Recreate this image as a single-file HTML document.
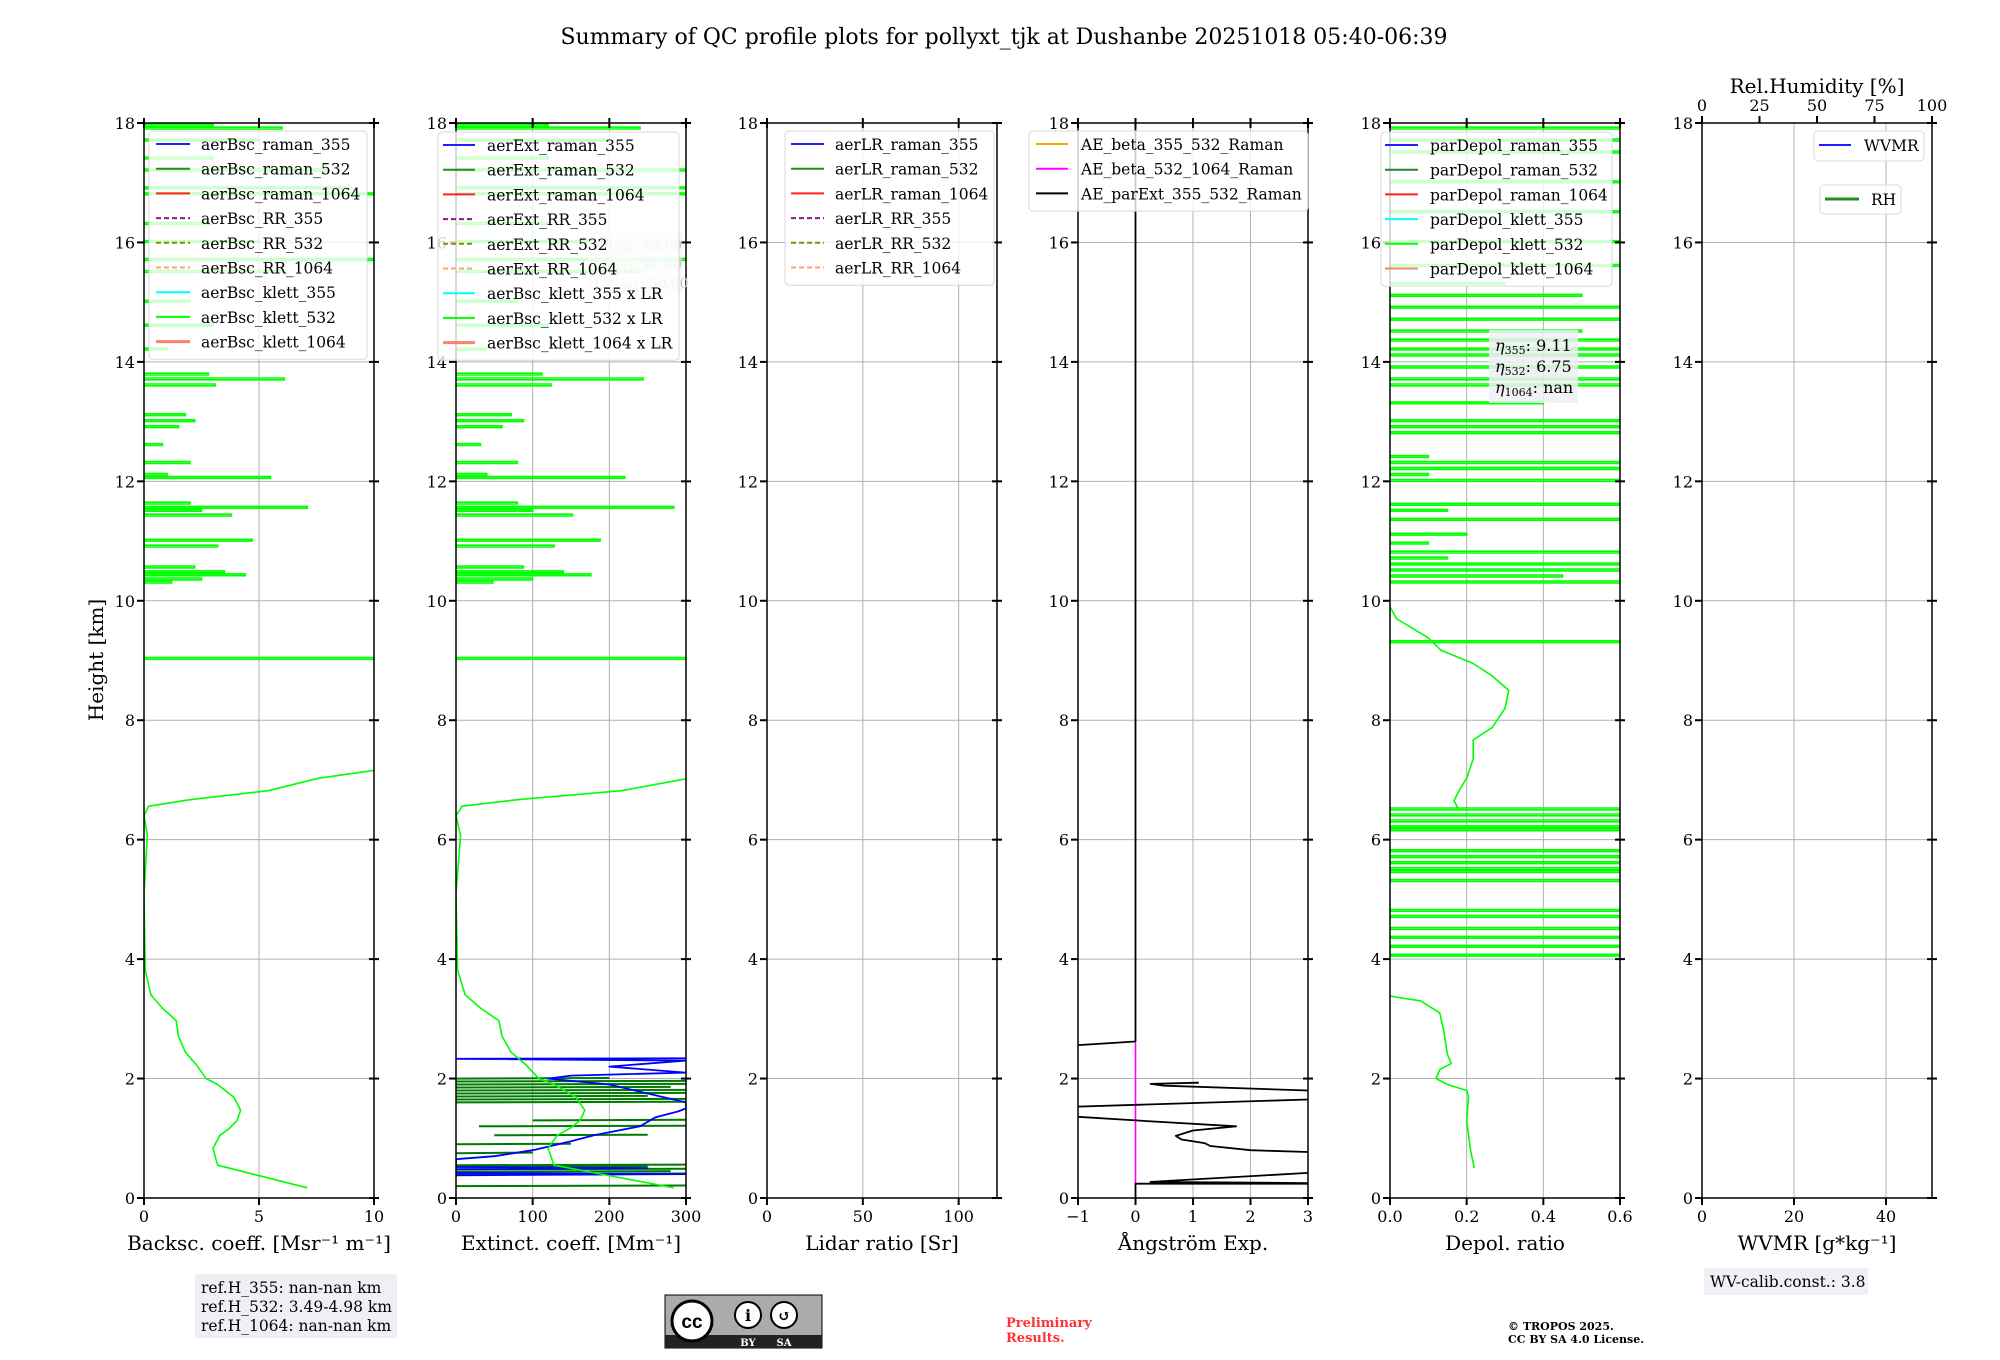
<!DOCTYPE html>
<html><head><meta charset="utf-8"><style>
html,body{margin:0;padding:0;background:#fff;}
svg{display:block;font-family:"DejaVu Serif","Liberation Serif",serif;}
</style></head><body>
<svg id="fig" width="2000" height="1360" viewBox="0 0 2000 1360" xmlns="http://www.w3.org/2000/svg">
<text x="1004" y="44" font-size="22" text-anchor="middle">Summary of QC profile plots for pollyxt_tjk at Dushanbe 20251018 05:40-06:39</text>
<text x="0" y="0" font-size="20" text-anchor="middle" transform="translate(103,660) rotate(-90)">Height [km]</text>
<g id="panels"></g>
<g>
<rect x="195" y="1274" width="202" height="64" fill="#eef0f5"/>
<text x="201" y="1293" font-size="15.5">ref.H_355: nan-nan km</text>
<text x="201" y="1312" font-size="15.5">ref.H_532: 3.49-4.98 km</text>
<text x="201" y="1331" font-size="15.5">ref.H_1064: nan-nan km</text>
</g>
<g>
<rect x="665" y="1295" width="157" height="53" fill="#a9aca9" stroke="#000" stroke-width="1"/>
<rect x="665" y="1335" width="157" height="13" fill="#222"/>
<circle cx="692" cy="1321" r="20" fill="#fff" stroke="#000" stroke-width="3"/>
<text x="692" y="1328" font-size="19" font-weight="bold" text-anchor="middle" font-family="Liberation Sans, sans-serif">cc</text>
<circle cx="748" cy="1315" r="13" fill="#fff" stroke="#000" stroke-width="2"/>
<text x="748" y="1321" font-size="16" font-weight="bold" text-anchor="middle">i</text>
<circle cx="784" cy="1315" r="13" fill="#fff" stroke="#000" stroke-width="2"/>
<text x="784" y="1321" font-size="15" font-weight="bold" text-anchor="middle">↺</text>
<text x="748" y="1346" font-size="10" fill="#fff" text-anchor="middle" font-weight="bold">BY</text>
<text x="784" y="1346" font-size="10" fill="#fff" text-anchor="middle" font-weight="bold">SA</text>
</g>
<text x="1006" y="1327" font-size="13" font-weight="bold" fill="#ff3333">Preliminary</text>
<text x="1006" y="1342" font-size="13" font-weight="bold" fill="#ff3333">Results.</text>
<text x="1508" y="1330" font-size="11" font-weight="bold">© TROPOS 2025.</text>
<text x="1508" y="1343" font-size="11" font-weight="bold">CC BY SA 4.0 License.</text>
<g>
<rect x="1704" y="1268" width="164" height="27" fill="#eef0f5"/>
<text x="1710" y="1287" font-size="15.5">WV-calib.const.: 3.8</text>
</g>
</svg>
<script>
// ---------- data ----------
const bscH = [0.17,0.55,0.83,1.05,1.16,1.3,1.47,1.69,1.9,2.0,2.22,2.44,2.71,2.97,3.18,3.4,3.82,5.1,6.07,6.4,6.56,6.67,6.82,7.03,7.16];
const bscV = [7.1,3.2,3.0,3.3,3.7,4.05,4.2,3.9,3.2,2.7,2.3,1.8,1.5,1.4,0.8,0.3,0.05,0.0,0.15,0.0,0.2,2.0,5.4,7.6,10.0];
const bscSpikeH = [9.02,10.3,10.35,10.42,10.47,10.55,10.9,11.0,11.42,11.5,11.55,11.62,12.05,12.1,12.3,12.6,12.9,13.0,13.1,13.6,13.7,13.78,14.2,14.6,15.0,15.5,15.7,16.0,16.3,16.8,16.9,17.2,17.4,17.7,17.9,17.95];
const bscSpikeV = [10,1.2,2.5,4.4,3.5,2.2,3.2,4.7,3.8,2.5,7.1,2.0,5.5,1.0,2.0,0.8,1.5,2.2,1.8,3.1,6.1,2.8,1.0,3.0,2.0,6.0,10,5.0,3.0,10,9.0,8.0,3.0,5.0,6.0,3.0];
const lrValues = [45.0,40.0,50.0];
const e355H = [0.38,0.4,0.42,0.48,0.5,0.52,0.65,0.7,0.8,0.95,1.05,1.1,1.2,1.35,1.45,1.5,1.6,1.75,1.9,2.0,2.05,2.1,2.2,2.3,2.33,2.34];
const e355V = [0,300,0,0,250,0,0,50,100,150,180,200,240,260,290,300,300,250,200,120,150,300,200,300,0,300];
const e532H = [0.2,0.4,0.44,0.48,0.52,0.55,0.75,0.9,1.05,1.2,1.3,1.6,1.65,1.7,1.75,1.8,1.85,1.9,1.95,2.0];
const e532A = [0,0,0,0,0,0,0,0,50,30,100,0,0,0,0,0,0,0,0,0];
const e532B = [300,300,280,300,250,300,100,150,250,300,300,300,300,250,300,300,280,300,300,200];
const aeH = [18,2.62,2.56,null,1.93,1.91,1.88,1.8,null,1.65,1.53,null,1.36,1.3,1.2,1.13,1.04,0.98,0.92,0.87,0.8,0.77,null,0.42,0.27,0.25,0.24,0.24,0];
const aeV = [0,0,-1,null,1.1,0.26,0.5,3,null,3,-1,null,-1,0,1.75,1.0,0.7,0.8,1.2,1.3,2.0,3,null,3,0.26,3,3,0,0];
const aeBetaH = [0.24,2.6];
const aeBetaV = [0,0];
const depH = [0.5,0.8,1.3,1.7,1.8,1.9,2.0,2.15,2.25,2.4,2.8,3.1,3.3,3.38];
const depV = [0.22,0.21,0.2,0.205,0.2,0.15,0.12,0.13,0.16,0.15,0.14,0.13,0.08,0];
const dep2H = [6.5,6.65,6.82,7.03,7.35,7.67,7.88,8.2,8.5,8.74,8.95,9.17,9.38,9.7,9.9];
const dep2V = [0.18,0.167,0.18,0.2,0.217,0.217,0.267,0.3,0.31,0.267,0.217,0.133,0.1,0.017,0];
const depSpikeH = [4.05,4.2,4.35,4.5,4.7,4.8,5.3,5.45,5.5,5.6,5.7,5.8,6.15,6.2,6.3,6.4,6.5,9.3,10.3,10.4,10.5,10.6,10.7,10.8,10.95,11.1,11.35,11.5,11.6,12.0,12.1,12.2,12.3,12.4,12.8,12.9,13.0,13.3,13.6,13.7,13.9,14.1,14.2,14.35,14.5,14.7,14.9,15.1,15.3,15.6,16.0,16.5,17.0,17.5,17.7,17.9];
const depSpikeV = [0.6,0.6,0.6,0.6,0.6,0.6,0.6,0.6,0.6,0.6,0.6,0.6,0.6,0.6,0.6,0.6,0.6,0.6,0.6,0.45,0.6,0.6,0.15,0.6,0.1,0.2,0.6,0.15,0.6,0.6,0.1,0.6,0.6,0.1,0.6,0.6,0.6,0.4,0.6,0.6,0.6,0.6,0.6,0.6,0.5,0.6,0.6,0.5,0.3,0.6,0.6,0.6,0.6,0.6,0.6,0.6];
const etaLabels = ["9.11","6.75","nan"];
const yTicks = [0,2,4,6,8,10,12,14,16,18];

// ---------- layout ----------
const NS="http://www.w3.org/2000/svg";
const TOP=123, BOT=1198, W=230;
const lefts=[144,456,767,1078,1390,1702];
const cfg=[
 {min:0,max:10,ticks:[0,5,10],lab:["0","5","10"],title:"Backsc. coeff. [Msr⁻¹ m⁻¹]",name:"backscatter"},
 {min:0,max:300,ticks:[0,100,200,300],lab:["0","100","200","300"],title:"Extinct. coeff. [Mm⁻¹]",name:"extinction"},
 {min:0,max:120,ticks:[0,50,100],lab:["0","50","100"],title:"Lidar ratio [Sr]",name:"lidar-ratio"},
 {min:-1,max:3,ticks:[-1,0,1,2,3],lab:["−1","0","1","2","3"],title:"Ångström Exp.",name:"angstrom"},
 {min:0,max:0.6,ticks:[0,0.2,0.4,0.6],lab:["0.0","0.2","0.4","0.6"],title:"Depol. ratio",name:"depol"},
 {min:0,max:50,ticks:[0,20,40],lab:["0","20","40"],title:"WVMR [g*kg⁻¹]",name:"wvmr"}
];
const yS=h=>BOT-(h/18)*(BOT-TOP);
const root=document.getElementById('panels');
function mk(tag,attrs,parent){const e=document.createElementNS(NS,tag);for(const k in attrs)e.setAttribute(k,attrs[k]);(parent||root).appendChild(e);return e;}
function xs(i){const c=cfg[i];return v=>lefts[i]+(v-c.min)/(c.max-c.min)*W;}

const defs=mk('defs',{});
const plotGroups=[];
cfg.forEach((c,i)=>{
 const L=lefts[i], X=xs(i);
 const g=mk('g',{});
 
 
 const cp=mk('clipPath',{id:'cp'+i},defs);
 mk('rect',{x:L,y:TOP,width:W,height:BOT-TOP},cp);
 c.ticks.forEach(t=>{mk('line',{x1:X(t),x2:X(t),y1:TOP,y2:BOT,stroke:'#b0b0b0','stroke-width':1},g);});
 yTicks.forEach(t=>{mk('line',{x1:L,x2:L+W,y1:yS(t),y2:yS(t),stroke:'#b0b0b0','stroke-width':1},g);});
 const pg=mk('g',{'clip-path':'url(#cp'+i+')'},g);
 plotGroups.push(pg);
 const fr=mk('rect',{x:L,y:TOP,width:W,height:BOT-TOP,fill:'none',stroke:'#000','stroke-width':1.5},g);
 
 
 yTicks.forEach(t=>{
  mk('line',{x1:L-7,x2:L,y1:yS(t),y2:yS(t),stroke:'#000','stroke-width':2},g);
  mk('line',{x1:L+W-5,x2:L+W+5,y1:yS(t),y2:yS(t),stroke:'#000','stroke-width':2},g);
  const tx=mk('text',{x:L-9,y:yS(t)+6,'font-size':16,'text-anchor':'end'},g);
  tx.textContent=String(t);
  
  
 });
 c.ticks.forEach((t,k)=>{
  mk('line',{x1:X(t),x2:X(t),y1:BOT,y2:BOT+7,stroke:'#000','stroke-width':2},g);
  if(i!==5) mk('line',{x1:X(t),x2:X(t),y1:TOP-5,y2:TOP+5,stroke:'#000','stroke-width':2},g);
  const tx=mk('text',{x:X(t),y:BOT+24,'font-size':16,'text-anchor':'middle'},g);
  tx.textContent=c.lab[k];
  
  
 });
 const at=mk('text',{x:L+W/2,y:BOT+52,'font-size':20,'text-anchor':'middle'},g);
 at.textContent=c.title;
 
 
});

function poly(i,H,V,color,w,name){
 const X=xs(i);let d='',pen=false;
 for(let k=0;k<H.length;k++){
  if(H[k]===null||V[k]===null){pen=false;continue;}
  d+=(pen?'L':'M')+X(V[k]).toFixed(1)+','+yS(H[k]).toFixed(1)+' ';pen=true;
 }
 const p=mk('path',{d:d,fill:'none',stroke:color,'stroke-width':w,'stroke-linejoin':'round'},plotGroups[i]);
 
 
 return p;
}
function spikes(i,H,V,scale,color,name){
 const X=xs(i);let d='';
 for(let k=0;k<H.length;k++){
  const v=V[k]*scale;
  d+='M'+X(0).toFixed(1)+','+yS(H[k]).toFixed(1)+'L'+X(v).toFixed(1)+','+yS(H[k]).toFixed(1)+'L'+X(v).toFixed(1)+','+yS(H[k]+0.03).toFixed(1)+'L'+X(0).toFixed(1)+','+yS(H[k]+0.03).toFixed(1)+' ';
 }
 const p=mk('path',{d:d,fill:'none',stroke:color,'stroke-width':1.6},plotGroups[i]);
 
 
}
function segs(i,H,A,B,color,name){
 const X=xs(i);let d='';
 for(let k=0;k<H.length;k++){d+='M'+X(A[k]).toFixed(1)+','+yS(H[k]).toFixed(1)+'L'+X(B[k]).toFixed(1)+','+yS(H[k]+0.01).toFixed(1)+' ';}
 const p=mk('path',{d:d,fill:'none',stroke:color,'stroke-width':2},plotGroups[i]);
 
 
}

poly(0,bscH,bscV,'#00ff00',1.6,'aerBsc-klett-532-line');
spikes(0,bscSpikeH,bscSpikeV,1,'#00ff00','aerBsc-klett-532-spikes');
const lr532=lrValues[1];
segs(1,e532H,e532A,e532B,'#007a00','aerExt-raman-532-line');
poly(1,e355H,e355V,'#0000ff',1.8,'aerExt-raman-355-line');
poly(1,bscH,bscV.map(v=>v*lr532),'#00ff00',1.6,'aerBsc-klett-532-x-LR-line');
spikes(1,bscSpikeH,bscSpikeV,lr532,'#00ff00','aerBsc-klett-532-x-LR-spikes');
poly(3,aeBetaH,aeBetaV,'#ff00ff',1.6,'AE-beta-532-1064-line');
poly(3,aeH,aeV,'#000',1.8,'AE-parExt-355-532-line');
poly(4,depH,depV,'#00ff00',1.6,'parDepol-klett-532-lower');
poly(4,dep2H,dep2V,'#00ff00',1.6,'parDepol-klett-532-mid');
spikes(4,depSpikeH,depSpikeV,1,'#00ff00','parDepol-klett-532-spikes');

const lrBox=mk('g',{});


mk('rect',{x:588,y:232,width:94,height:61,fill:'#eef0f5','fill-opacity':0.6},lrBox);
["355","532","1064"].forEach((w,k)=>{
 const t=mk('text',{x:594,y:250+k*19,'font-size':14,fill:'#c8c8c8'},lrBox);
 t.innerHTML='LR<tspan font-size="10" dy="3">'+w+'</tspan><tspan dy="-3">: '+lrValues[k].toFixed(2)+'</tspan>';
});

function legend(name,x,y,w,rowH,items,textX,hx1,hx2,off){
 off=off||13;
 const g=mk('g',{});
 
 
 mk('rect',{x:x,y:y,width:w,height:rowH*items.length+6,rx:4,fill:'#fff','fill-opacity':0.8,stroke:'#d8d8d8','stroke-width':1},g);
 items.forEach((it,k)=>{
  const cy=y+off+k*rowH;
  mk('line',{x1:hx1,x2:hx2,y1:cy,y2:cy,stroke:it[1],'stroke-width':it[3]||2,'stroke-dasharray':it[2]?'5,3':'none'},g);
  const t=mk('text',{x:textX,y:cy+6,'font-size':15.5},g);
  t.textContent=it[0];
  
  
 });
}
const c9=(p,suf)=>[[p+'_raman_355','#2020ff'],[p+'_raman_532','#228b22'],[p+'_raman_1064','#ff2020'],[p+'_RR_355','#8b1a8b',1],[p+'_RR_532','#8b8b00',1],[p+'_RR_1064','#ffa07a',1],[(suf?'aerBsc':p)+'_klett_355'+(suf||''),'#00ffff'],[(suf?'aerBsc':p)+'_klett_532'+(suf||''),'#00ff00'],[(suf?'aerBsc':p)+'_klett_1064'+(suf||''),'#fa8072',0,3]];
legend('backscatter-legend',149,131,218,24.7,c9('aerBsc'),201,156,190);
legend('extinction-legend',438,132,241,24.7,c9('aerExt',' x LR'),487,443,475);
legend('lidar-ratio-legend',785,131,209,24.7,c9('aerLR').slice(0,6),835,791,824);
legend('angstrom-legend',1029,131,279,24.7,[['AE_beta_355_532_Raman','#ffa500'],['AE_beta_532_1064_Raman','#ff00ff'],['AE_parExt_355_532_Raman','#000']],1081,1036,1068);
legend('depol-legend',1381,132,231,24.7,[['parDepol_raman_355','#2020ff'],['parDepol_raman_532','#2e7d32'],['parDepol_raman_1064','#ff2020'],['parDepol_klett_355','#00ffff'],['parDepol_klett_532','#00ff00'],['parDepol_klett_1064','#fa8072']],1430,1385,1418);
legend('wvmr-legend',1814,131,110,24,[['WVMR','#2020ff']],1864,1819,1851,14);
legend('rh-legend',1820,185,81,23,[['RH','#228b22',0,3]],1871,1825,1859,14);

const eg=mk('g',{});


mk('rect',{x:1489,y:330,width:89,height:73,fill:'#eef0f5','fill-opacity':0.85},eg);
["355","532","1064"].forEach((w,k)=>{
 const t=mk('text',{x:1495,y:351+k*21,'font-size':16},eg);
 t.innerHTML='<tspan font-style="italic">η</tspan><tspan font-size="11" dy="3">'+w+'</tspan><tspan dy="-3">: '+etaLabels[k]+'</tspan>';
});

const rg=mk('g',{});


[0,25,50,75,100].forEach(v=>{
 const x=1702+v/100*W;
 mk('line',{x1:x,x2:x,y1:TOP-7,y2:TOP,stroke:'#000','stroke-width':2},rg);
 const t=mk('text',{x:x,y:111,'font-size':16,'text-anchor':'middle'},rg);
 t.textContent=String(v);
});
const rt=mk('text',{x:1817,y:93,'font-size':20,'text-anchor':'middle'},rg);
rt.textContent='Rel.Humidity [%]';


</script>
</body></html>
